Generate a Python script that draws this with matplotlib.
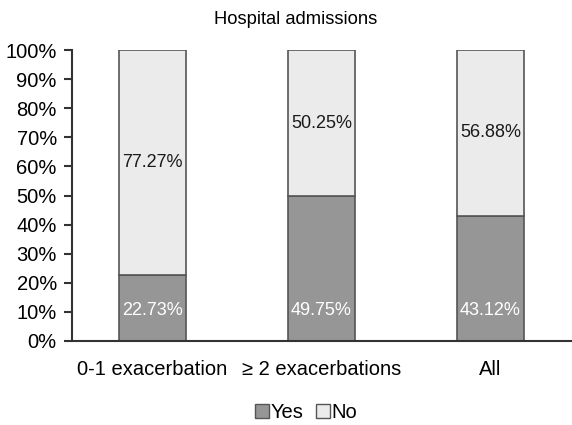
import matplotlib
matplotlib.use("Agg")
import matplotlib.pyplot as plt
from matplotlib.ticker import FuncFormatter
from matplotlib.patches import Patch

plt.rcParams['font.family'] = ['Liberation Sans', 'DejaVu Sans']

categories = ["0-1 exacerbation", "\u2265 2 exacerbations", "All"]
yes_vals = [22.73, 49.75, 43.12]
no_vals = [77.27, 50.25, 56.88]
yticks = list(range(0, 101, 10))

fig = plt.figure(figsize=(5.72, 4.25), dpi=100)
ax = fig.add_axes([0.126, 0.198, 0.872, 0.684])

x = list(range(len(categories)))
yes_c = "#969696"
no_c = "#ebebeb"
edge = "#555555"
w = 0.4
ax.bar(x, yes_vals, width=w, color=yes_c, edgecolor=edge, linewidth=1.2, label="Yes")
ax.bar(x, no_vals, width=w, bottom=yes_vals, color=no_c, edgecolor=edge, linewidth=1.2, label="No")

for i in x:
    ax.text(i, 10.5, f"{yes_vals[i]:.2f}%", ha="center", va="center",
            color="white", fontsize=13)
    ax.text(i, yes_vals[i] + no_vals[i] / 2, f"{no_vals[i]:.2f}%", ha="center", va="center",
            color="#1a1a1a", fontsize=13)

ax.set_xlim(-0.476, 2.476)
ax.set_ylim(0, 100)
ax.set_yticks(yticks)
ax.yaxis.set_major_formatter(FuncFormatter(lambda v, p: f"{int(v)}%"))
ax.tick_params(axis="y", labelsize=14.5, direction="out", length=6, width=1.5, color="#333333", pad=5)
ax.set_xticks(x)
ax.set_xticklabels(categories)
ax.tick_params(axis="x", labelsize=14.5, length=0, pad=14)
for s in ["top", "right"]:
    ax.spines[s].set_visible(False)
for s in ["left", "bottom"]:
    ax.spines[s].set_linewidth(1.5)
    ax.spines[s].set_color("#333333")

fig.text(0.517, 0.953, "Hospital admissions", fontsize=13.2, ha="center", va="center")

handles = [Patch(facecolor=yes_c, edgecolor=edge, label="Yes"),
           Patch(facecolor=no_c, edgecolor=edge, label="No")]
fig.legend(handles=handles, loc="center", bbox_to_anchor=(0.535, 0.03), ncol=2, frameon=False,
           fontsize=14.5, handlelength=0.7, handleheight=0.7, handletextpad=0.1, columnspacing=0.6)

fig.savefig("out.png", dpi=100)
